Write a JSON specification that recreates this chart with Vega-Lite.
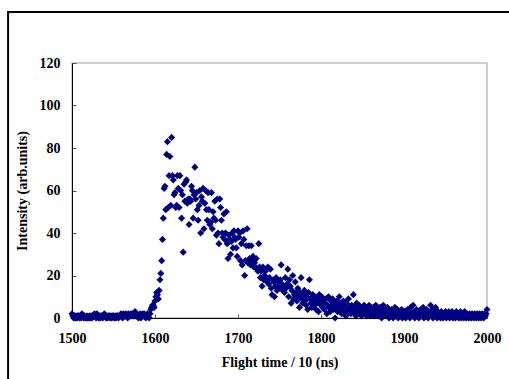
{
"$schema": "https://vega.github.io/schema/vega-lite/v6.json",
"width": 415,
"height": 255,
"autosize": "none",
"padding": {"left": 72, "top": 63, "right": 22, "bottom": 61},
"background": "white",
"config": {"view": {"stroke": "#c0c0c0", "strokeWidth": 1.5}, "font": "Liberation Serif"},
"layer": [
{
"data": {"values": [{"k": 1}]},
"mark": {"type": "rect", "filled": false, "stroke": "black", "strokeWidth": 2, "clip": false},
"encoding": {
"x": {"datum": 1423, "type": "quantitative", "scale": {"domain": [1500, 2000], "nice": false, "zero": false, "padding": 0}},
"x2": {"datum": 2300},
"y": {"datum": 144, "type": "quantitative", "scale": {"domain": [0, 120], "nice": false, "zero": false, "padding": 0}},
"y2": {"datum": -200}
}
},
{
"data": {"values": [
{"t":1500,"v":2},{"t":1501,"v":1},{"t":1502,"v":0},{"t":1503,"v":1},{"t":1504,"v":0},{"t":1505,"v":1},{"t":1506,"v":0},{"t":1507,"v":1},{"t":1508,"v":1},{"t":1509,"v":0},
{"t":1510,"v":1},{"t":1511,"v":0},{"t":1512,"v":2},{"t":1513,"v":1},{"t":1514,"v":0},{"t":1515,"v":1},{"t":1516,"v":0},{"t":1517,"v":0},{"t":1518,"v":1},{"t":1519,"v":0},
{"t":1520,"v":0},{"t":1521,"v":1},{"t":1522,"v":0},{"t":1523,"v":1},{"t":1524,"v":0},{"t":1525,"v":1},{"t":1526,"v":1},{"t":1527,"v":2},{"t":1528,"v":1},{"t":1529,"v":0},
{"t":1530,"v":2},{"t":1531,"v":1},{"t":1532,"v":0},{"t":1533,"v":1},{"t":1534,"v":0},{"t":1535,"v":1},{"t":1536,"v":1},{"t":1537,"v":0},{"t":1538,"v":1},{"t":1539,"v":2},
{"t":1540,"v":1},{"t":1541,"v":0},{"t":1542,"v":1},{"t":1543,"v":0},{"t":1544,"v":1},{"t":1545,"v":1},{"t":1546,"v":0},{"t":1547,"v":1},{"t":1548,"v":0},{"t":1549,"v":1},
{"t":1550,"v":1},{"t":1551,"v":0},{"t":1552,"v":1},{"t":1553,"v":0},{"t":1554,"v":1},{"t":1555,"v":1},{"t":1556,"v":0},{"t":1557,"v":1},{"t":1558,"v":1},{"t":1559,"v":2},
{"t":1560,"v":1},{"t":1561,"v":0},{"t":1562,"v":2},{"t":1563,"v":1},{"t":1564,"v":1},{"t":1565,"v":2},{"t":1566,"v":1},{"t":1567,"v":0},{"t":1568,"v":2},{"t":1569,"v":1},
{"t":1570,"v":1},{"t":1571,"v":2},{"t":1572,"v":1},{"t":1573,"v":2},{"t":1574,"v":1},{"t":1575,"v":1},{"t":1576,"v":3},{"t":1577,"v":1},{"t":1578,"v":2},{"t":1579,"v":1},
{"t":1580,"v":0},{"t":1581,"v":1},{"t":1582,"v":2},{"t":1583,"v":0},{"t":1584,"v":1},{"t":1585,"v":2},{"t":1586,"v":1},{"t":1587,"v":2},{"t":1588,"v":1},{"t":1589,"v":0},
{"t":1590,"v":1},{"t":1591,"v":2},{"t":1592,"v":1},{"t":1593,"v":0},{"t":1594,"v":2},{"t":1595,"v":4},{"t":1596,"v":5},{"t":1597,"v":6},{"t":1598,"v":6},{"t":1599,"v":5},
{"t":1600,"v":8},{"t":1601,"v":10},{"t":1602,"v":12},{"t":1603,"v":11},{"t":1604,"v":9},{"t":1605,"v":13},{"t":1606,"v":18},{"t":1607,"v":21},{"t":1608,"v":27},{"t":1609,"v":37},
{"t":1610,"v":47},{"t":1611,"v":61},{"t":1612,"v":62},{"t":1613,"v":51},{"t":1614,"v":77},{"t":1615,"v":83},{"t":1616,"v":52},{"t":1617,"v":67},{"t":1618,"v":76},{"t":1619,"v":53},
{"t":1620,"v":85},{"t":1621,"v":67},{"t":1622,"v":65},{"t":1623,"v":58},{"t":1624,"v":59},{"t":1625,"v":52},{"t":1626,"v":53},{"t":1627,"v":67},{"t":1628,"v":61},{"t":1629,"v":52},
{"t":1630,"v":67},{"t":1631,"v":60},{"t":1632,"v":47},{"t":1633,"v":58},{"t":1634,"v":31},{"t":1635,"v":63},{"t":1636,"v":55},{"t":1637,"v":64},{"t":1638,"v":65},{"t":1639,"v":54},
{"t":1640,"v":56},{"t":1641,"v":44},{"t":1642,"v":56},{"t":1643,"v":55},{"t":1644,"v":62},{"t":1645,"v":60},{"t":1646,"v":47},{"t":1647,"v":58},{"t":1648,"v":71},{"t":1649,"v":56},
{"t":1650,"v":59},{"t":1651,"v":51},{"t":1652,"v":46},{"t":1653,"v":53},{"t":1654,"v":60},{"t":1655,"v":40},{"t":1656,"v":57},{"t":1657,"v":55},{"t":1658,"v":61},{"t":1659,"v":42},
{"t":1660,"v":54},{"t":1661,"v":60},{"t":1662,"v":51},{"t":1663,"v":46},{"t":1664,"v":59},{"t":1665,"v":51},{"t":1666,"v":44},{"t":1667,"v":45},{"t":1668,"v":59},{"t":1669,"v":42},
{"t":1670,"v":50},{"t":1671,"v":47},{"t":1672,"v":55},{"t":1673,"v":46},{"t":1674,"v":39},{"t":1675,"v":56},{"t":1676,"v":40},{"t":1677,"v":35},{"t":1678,"v":56},{"t":1679,"v":52},
{"t":1680,"v":46},{"t":1681,"v":40},{"t":1682,"v":38},{"t":1683,"v":49},{"t":1684,"v":37},{"t":1685,"v":40},{"t":1686,"v":50},{"t":1687,"v":35},{"t":1688,"v":28},{"t":1689,"v":39},
{"t":1690,"v":37},{"t":1691,"v":30},{"t":1692,"v":36},{"t":1693,"v":40},{"t":1694,"v":33},{"t":1695,"v":41},{"t":1696,"v":38},{"t":1697,"v":37},{"t":1698,"v":33},{"t":1699,"v":29},
{"t":1700,"v":41},{"t":1701,"v":38},{"t":1702,"v":40},{"t":1703,"v":27},{"t":1704,"v":35},{"t":1705,"v":25},{"t":1706,"v":41},{"t":1707,"v":37},{"t":1708,"v":20},{"t":1709,"v":27},
{"t":1710,"v":34},{"t":1711,"v":42},{"t":1712,"v":26},{"t":1713,"v":34},{"t":1714,"v":28},{"t":1715,"v":25},{"t":1716,"v":34},{"t":1717,"v":27},{"t":1718,"v":29},{"t":1719,"v":24},
{"t":1720,"v":26},{"t":1721,"v":24},{"t":1722,"v":28},{"t":1723,"v":23},{"t":1724,"v":22},{"t":1725,"v":35},{"t":1726,"v":24},{"t":1727,"v":19},{"t":1728,"v":22},{"t":1729,"v":15},
{"t":1730,"v":24},{"t":1731,"v":18},{"t":1732,"v":20},{"t":1733,"v":22},{"t":1734,"v":19},{"t":1735,"v":17},{"t":1736,"v":24},{"t":1737,"v":16},{"t":1738,"v":19},{"t":1739,"v":23},
{"t":1740,"v":14},{"t":1741,"v":11},{"t":1742,"v":18},{"t":1743,"v":17},{"t":1744,"v":10},{"t":1745,"v":15},{"t":1746,"v":19},{"t":1747,"v":13},{"t":1748,"v":15},{"t":1749,"v":17},
{"t":1750,"v":14},{"t":1751,"v":18},{"t":1752,"v":25},{"t":1753,"v":16},{"t":1754,"v":13},{"t":1755,"v":15},{"t":1756,"v":12},{"t":1757,"v":19},{"t":1758,"v":14},{"t":1759,"v":16},
{"t":1760,"v":23},{"t":1761,"v":10},{"t":1762,"v":18},{"t":1763,"v":15},{"t":1764,"v":7},{"t":1765,"v":13},{"t":1766,"v":20},{"t":1767,"v":9},{"t":1768,"v":11},{"t":1769,"v":17},
{"t":1770,"v":12},{"t":1771,"v":8},{"t":1772,"v":14},{"t":1773,"v":10},{"t":1774,"v":5},{"t":1775,"v":12},{"t":1776,"v":19},{"t":1777,"v":9},{"t":1778,"v":7},{"t":1779,"v":11},
{"t":1780,"v":13},{"t":1781,"v":8},{"t":1782,"v":6},{"t":1783,"v":10},{"t":1784,"v":4},{"t":1785,"v":12},{"t":1786,"v":18},{"t":1787,"v":9},{"t":1788,"v":7},{"t":1789,"v":5},
{"t":1790,"v":11},{"t":1791,"v":8},{"t":1792,"v":6},{"t":1793,"v":10},{"t":1794,"v":4},{"t":1795,"v":7},{"t":1796,"v":9},{"t":1797,"v":3},{"t":1798,"v":11},{"t":1799,"v":8},
{"t":1800,"v":6},{"t":1801,"v":10},{"t":1802,"v":5},{"t":1803,"v":8},{"t":1804,"v":4},{"t":1805,"v":7},{"t":1806,"v":9},{"t":1807,"v":2},{"t":1808,"v":6},{"t":1809,"v":10},
{"t":1810,"v":5},{"t":1811,"v":3},{"t":1812,"v":8},{"t":1813,"v":6},{"t":1814,"v":9},{"t":1815,"v":4},{"t":1816,"v":7},{"t":1817,"v":0},{"t":1818,"v":5},{"t":1819,"v":8},
{"t":1820,"v":3},{"t":1821,"v":6},{"t":1822,"v":10},{"t":1823,"v":4},{"t":1824,"v":7},{"t":1825,"v":2},{"t":1826,"v":5},{"t":1827,"v":8},{"t":1828,"v":3},{"t":1829,"v":6},
{"t":1830,"v":1},{"t":1831,"v":7},{"t":1832,"v":4},{"t":1833,"v":9},{"t":1834,"v":3},{"t":1835,"v":5},{"t":1836,"v":2},{"t":1837,"v":6},{"t":1838,"v":4},{"t":1839,"v":11},
{"t":1840,"v":3},{"t":1841,"v":5},{"t":1842,"v":1},{"t":1843,"v":7},{"t":1844,"v":4},{"t":1845,"v":2},{"t":1846,"v":6},{"t":1847,"v":3},{"t":1848,"v":5},{"t":1849,"v":1},
{"t":1850,"v":4},{"t":1851,"v":2},{"t":1852,"v":6},{"t":1853,"v":3},{"t":1854,"v":5},{"t":1855,"v":1},{"t":1856,"v":4},{"t":1857,"v":2},{"t":1858,"v":6},{"t":1859,"v":3},
{"t":1860,"v":1},{"t":1861,"v":4},{"t":1862,"v":2},{"t":1863,"v":5},{"t":1864,"v":1},{"t":1865,"v":3},{"t":1866,"v":6},{"t":1867,"v":2},{"t":1868,"v":4},{"t":1869,"v":1},
{"t":1870,"v":3},{"t":1871,"v":5},{"t":1872,"v":2},{"t":1873,"v":0},{"t":1874,"v":3},{"t":1875,"v":6},{"t":1876,"v":2},{"t":1877,"v":4},{"t":1878,"v":1},{"t":1879,"v":3},
{"t":1880,"v":5},{"t":1881,"v":2},{"t":1882,"v":0},{"t":1883,"v":3},{"t":1884,"v":1},{"t":1885,"v":4},{"t":1886,"v":2},{"t":1887,"v":0},{"t":1888,"v":3},{"t":1889,"v":5},
{"t":1890,"v":1},{"t":1891,"v":2},{"t":1892,"v":4},{"t":1893,"v":0},{"t":1894,"v":2},{"t":1895,"v":3},{"t":1896,"v":1},{"t":1897,"v":4},{"t":1898,"v":0},{"t":1899,"v":2},
{"t":1900,"v":1},{"t":1901,"v":3},{"t":1902,"v":0},{"t":1903,"v":2},{"t":1904,"v":4},{"t":1905,"v":1},{"t":1906,"v":3},{"t":1907,"v":0},{"t":1908,"v":5},{"t":1909,"v":2},
{"t":1910,"v":1},{"t":1911,"v":6},{"t":1912,"v":3},{"t":1913,"v":0},{"t":1914,"v":2},{"t":1915,"v":4},{"t":1916,"v":1},{"t":1917,"v":3},{"t":1918,"v":0},{"t":1919,"v":2},
{"t":1920,"v":4},{"t":1921,"v":1},{"t":1922,"v":3},{"t":1923,"v":5},{"t":1924,"v":0},{"t":1925,"v":2},{"t":1926,"v":1},{"t":1927,"v":4},{"t":1928,"v":2},{"t":1929,"v":0},
{"t":1930,"v":3},{"t":1931,"v":1},{"t":1932,"v":6},{"t":1933,"v":2},{"t":1934,"v":4},{"t":1935,"v":0},{"t":1936,"v":3},{"t":1937,"v":1},{"t":1938,"v":5},{"t":1939,"v":2},
{"t":1940,"v":0},{"t":1941,"v":3},{"t":1942,"v":1},{"t":1943,"v":2},{"t":1944,"v":0},{"t":1945,"v":3},{"t":1946,"v":1},{"t":1947,"v":0},{"t":1948,"v":2},{"t":1949,"v":1},
{"t":1950,"v":3},{"t":1951,"v":0},{"t":1952,"v":2},{"t":1953,"v":1},{"t":1954,"v":3},{"t":1955,"v":0},{"t":1956,"v":2},{"t":1957,"v":1},{"t":1958,"v":3},{"t":1959,"v":0},
{"t":1960,"v":2},{"t":1961,"v":1},{"t":1962,"v":0},{"t":1963,"v":3},{"t":1964,"v":1},{"t":1965,"v":2},{"t":1966,"v":0},{"t":1967,"v":1},{"t":1968,"v":3},{"t":1969,"v":0},
{"t":1970,"v":2},{"t":1971,"v":1},{"t":1972,"v":0},{"t":1973,"v":3},{"t":1974,"v":1},{"t":1975,"v":0},{"t":1976,"v":2},{"t":1977,"v":1},{"t":1978,"v":0},{"t":1979,"v":2},
{"t":1980,"v":1},{"t":1981,"v":0},{"t":1982,"v":2},{"t":1983,"v":1},{"t":1984,"v":0},{"t":1985,"v":2},{"t":1986,"v":1},{"t":1987,"v":0},{"t":1988,"v":2},{"t":1989,"v":1},
{"t":1990,"v":0},{"t":1991,"v":2},{"t":1992,"v":1},{"t":1993,"v":0},{"t":1994,"v":2},{"t":1995,"v":1},{"t":1996,"v":0},{"t":1997,"v":2},{"t":1998,"v":1},{"t":1999,"v":2},
{"t":2000,"v":4}
]},
"mark": {"type": "point", "shape": "diamond", "filled": true, "color": "#000080", "opacity": 1, "size": 50},
"encoding": {
"x": {"field": "t", "type": "quantitative",
"scale": {"domain": [1500, 2000], "nice": false, "zero": false, "padding": 0},
"axis": {"title": "Flight time / 10 (ns)", "values": [1500,1600,1700,1800,1900,2000], "format": "d", "grid": false, "labelFlush": false,
"domainColor": "black", "domainWidth": 1, "tickColor": "#555555", "tickSize": -4,
"labelFont": "Liberation Serif", "labelFontWeight": "bold", "labelFontSize": 14, "labelColor": "black", "labelPadding": 17,
"titleFont": "Liberation Serif", "titleFontWeight": "bold", "titleFontSize": 14, "titleColor": "black", "titlePadding": 10}},
"y": {"field": "v", "type": "quantitative",
"scale": {"domain": [0, 120], "nice": false, "zero": false, "padding": 0},
"axis": {"title": "Intensity (arb.units)", "values": [0,20,40,60,80,100,120], "format": "d", "grid": false, "labelFlush": false,
"domainColor": "black", "domainWidth": 1, "tickColor": "#555555", "tickSize": -4,
"labelFont": "Liberation Serif", "labelFontWeight": "bold", "labelFontSize": 14, "labelColor": "black", "labelPadding": 16,
"titleFont": "Liberation Serif", "titleFontWeight": "bold", "titleFontSize": 14, "titleColor": "black", "titlePadding": 10}}
}
}
]
}
